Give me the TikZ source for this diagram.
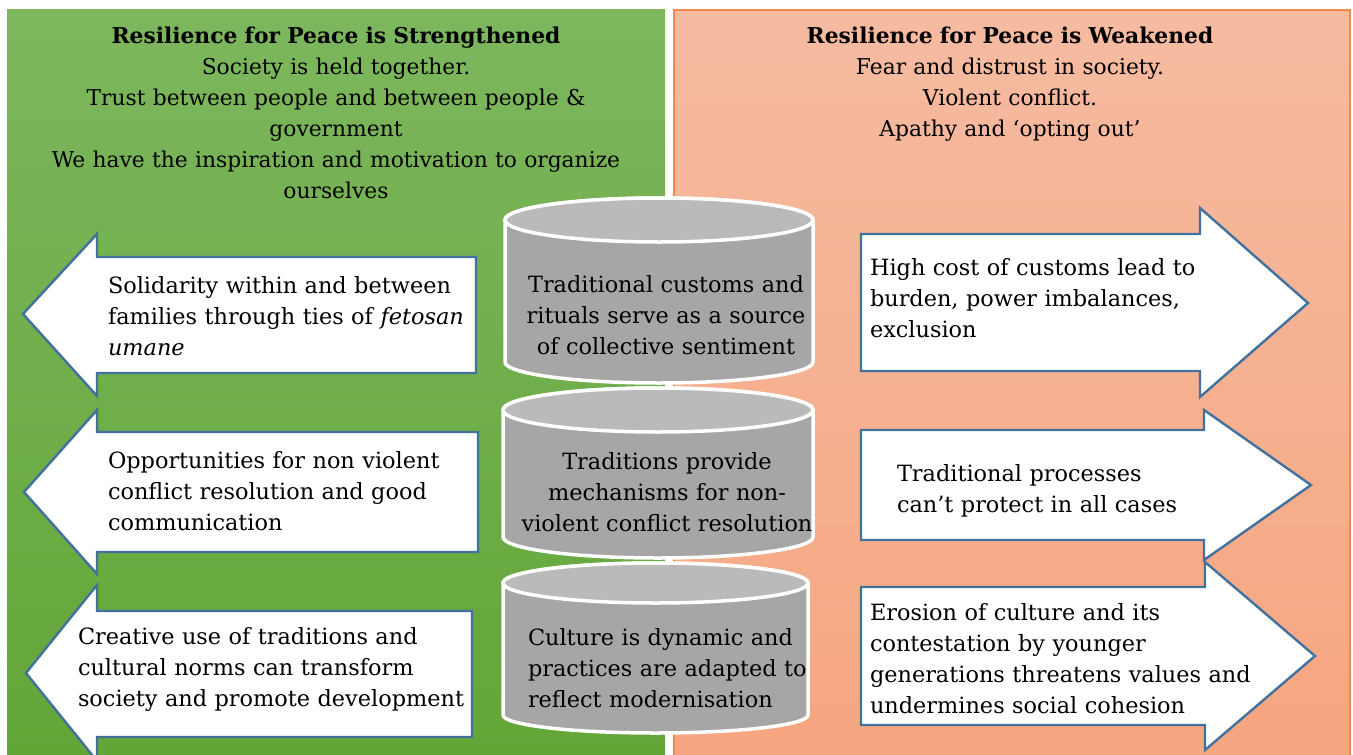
\documentclass[tikz,border=0pt]{standalone}
\usepackage{fontspec}
\setmainfont{DejaVu Serif}
\definecolor{gtop}{HTML}{7DB75E}
\definecolor{gbot}{HTML}{63A638}
\definecolor{otop}{HTML}{F5BBA1}
\definecolor{obot}{HTML}{F6A680}
\definecolor{oline}{HTML}{EE8A4E}
\definecolor{arrline}{HTML}{41719C}
\definecolor{cylbody}{HTML}{A6A6A6}
\definecolor{cyltop}{HTML}{BABABA}
\tikzset{
  arrowshape/.style={fill=white, draw=arrline, line width=2.4pt, line join=miter},
  cylside/.style={fill=cylbody, draw=white, line width=3.5pt},
  cyllid/.style={fill=cyltop, draw=white, line width=3.5pt},
  bodytxt/.style={inner sep=0pt, outer sep=0pt, text width=440pt, align=left,
    font=\fontsize{22.4}{31}\selectfont},
  cyltxt/.style={inner sep=0pt, outer sep=0pt, text width=330pt, align=center,
    font=\fontsize{22.4}{31}\selectfont},
  cyltxtl/.style={inner sep=0pt, outer sep=0pt, text width=330pt, align=left,
    font=\fontsize{22.4}{31}\selectfont},
  headtxt/.style={inner sep=0pt, outer sep=0pt, text width=640pt, align=center,
    font=\fontsize{21.8}{31}\selectfont}
}
\begin{document}
\begin{tikzpicture}[x=1pt,y=1pt]
\useasboundingbox (0,0) rectangle (1353,-755);
\fill[white] (0,0) rectangle (1353,-755);
% panels
\shade[top color=gtop, bottom color=gbot] (7,-9) rectangle (665,-755);
\shade[top color=otop, bottom color=obot] (674,-10) rectangle (1350,-755);
\draw[oline, line width=1.5pt] (674,-755) -- (674,-10) -- (1350,-10) -- (1350,-755);
% headers
\node[headtxt, anchor=base] (hleft) at (336,-43)
  {\textbf{Resilience for Peace is Strengthened}\\
   Society is held together.\\
   Trust between people and between people \&\\
   government\\
   We have the inspiration and motivation to organize\\
   ourselves};
\node[headtxt, anchor=base] (hright) at (1010,-43)
  {\textbf{Resilience for Peace is Weakened}\\
   Fear and distrust in society.\\
   Violent conflict.\\
   Apathy and ‘opting out’};
% left arrows
\draw[arrowshape] (476,-257) -- (97,-257) -- (97,-234) -- (23,-314) -- (97,-396) -- (97,-373) -- (476,-373) -- cycle;
\draw[arrowshape] (478,-432) -- (97,-432) -- (97,-410) -- (24,-492) -- (97,-574) -- (97,-552) -- (478,-552) -- cycle;
\draw[arrowshape] (472,-611) -- (97,-611) -- (97,-585) -- (26,-673) -- (97,-761) -- (97,-737) -- (472,-737) -- cycle;
\node[bodytxt, anchor=base west] (l1) at (108,-293)
  {Solidarity within and between\\ families through ties of \textit{fetosan}\\ \textit{umane}};
\node[bodytxt, anchor=base west] (l2) at (108,-468)
  {Opportunities for non violent\\ conflict resolution and good\\ communication};
\node[bodytxt, anchor=base west] (l3) at (78,-644)
  {Creative use of traditions and\\ cultural norms can transform\\ society and promote development};
% right arrows
\draw[arrowshape] (861,-234) -- (1200,-234) -- (1200,-208) -- (1308,-303) -- (1200,-397) -- (1200,-371) -- (861,-371) -- cycle;
\draw[arrowshape] (861,-430) -- (1204,-430) -- (1204,-410) -- (1311,-485) -- (1204,-560) -- (1204,-540) -- (861,-540) -- cycle;
\draw[arrowshape] (861,-587) -- (1205,-587) -- (1205,-562) -- (1315,-656) -- (1205,-750) -- (1205,-725) -- (861,-725) -- cycle;
\node[bodytxt, anchor=base west] (r1) at (870,-275)
  {High cost of customs lead to\\ burden, power imbalances,\\ exclusion};
\node[bodytxt, anchor=base west] (r2) at (897,-481)
  {Traditional processes\\ can’t protect in all cases};
\node[bodytxt, anchor=base west] (r3) at (870,-620)
  {Erosion of culture and its\\ contestation by younger\\ generations threatens values and\\ undermines social cohesion};
% cylinders
\draw[cylside] (505,-220) -- (505,-362) arc[start angle=180, end angle=360, x radius=154, y radius=21] -- (813,-220) arc[start angle=0, end angle=180, x radius=154, y radius=22] -- cycle;
\draw[cyllid] (659,-220) ellipse[x radius=154, y radius=22];
\draw[cylside] (503,-410) -- (503,-537) arc[start angle=180, end angle=360, x radius=155, y radius=21] -- (813,-410) arc[start angle=0, end angle=180, x radius=155, y radius=22] -- cycle;
\draw[cyllid] (658,-410) ellipse[x radius=155, y radius=22];
\draw[cylside] (503,-583) -- (503,-715) arc[start angle=180, end angle=360, x radius=152.5, y radius=18] -- (808,-583) arc[start angle=0, end angle=180, x radius=152.5, y radius=20] -- cycle;
\draw[cyllid] (655.5,-583) ellipse[x radius=152.5, y radius=20];
\node[cyltxt, anchor=base] (c1) at (666,-292)
  {Traditional customs and\\ rituals serve as a source\\ of collective sentiment};
\node[cyltxt, anchor=base] (c2) at (667,-469)
  {Traditions provide\\ mechanisms for non-\\ violent conflict resolution};
\node[cyltxtl, anchor=base west] (c3) at (528,-645)
  {Culture is dynamic and\\ practices are adapted to\\ reflect modernisation};
\end{tikzpicture}
\end{document}
